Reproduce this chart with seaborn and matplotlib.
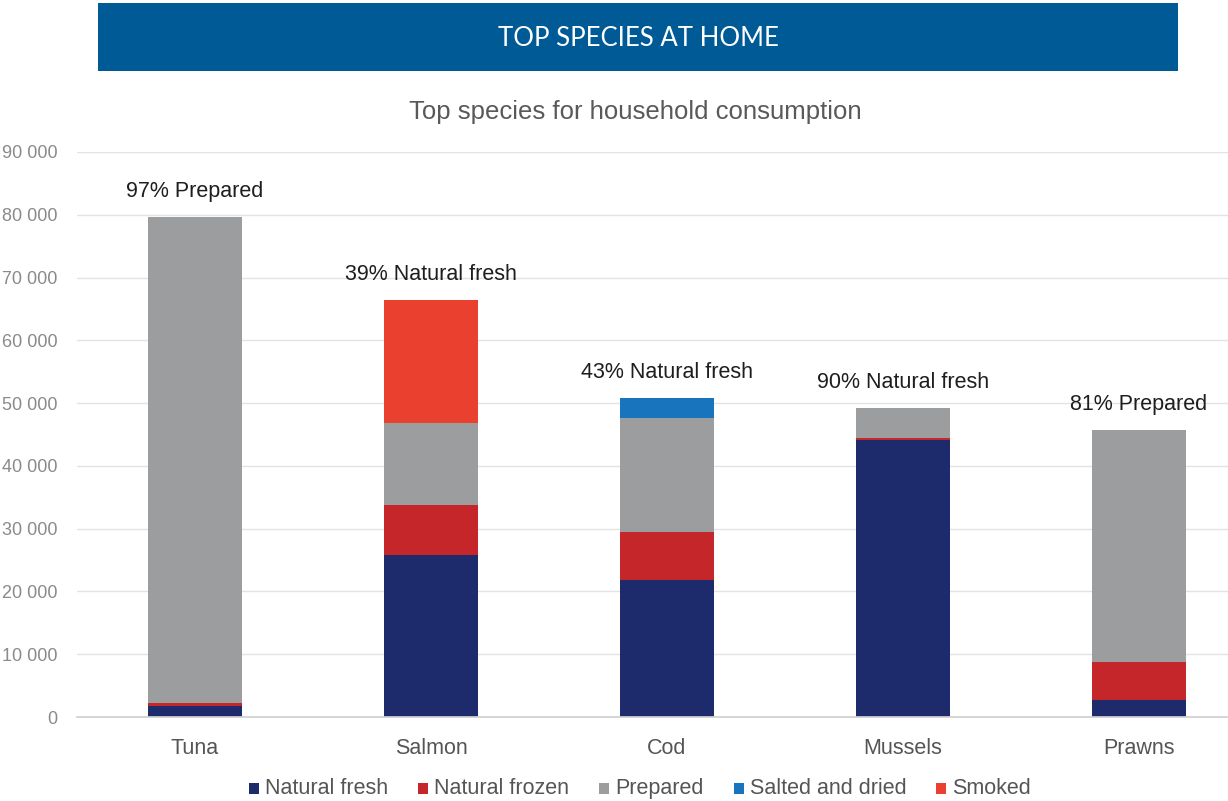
import matplotlib
matplotlib.use("Agg")
import matplotlib.pyplot as plt
from matplotlib.patches import Rectangle
import seaborn as sns
import pandas as pd
import numpy as np

# Household consumption by species and product type
species = ["Tuna", "Salmon", "Cod", "Mussels", "Prawns"]
natural_fresh = [1700, 25800, 21800, 44100, 2700]
natural_frozen = [500, 8000, 7700, 400, 6100]
prepared = [77400, 13000, 18100, 4700, 36900]
salted_dried = [0, 0, 3200, 0, 0]
smoked = [0, 19600, 0, 0, 0]
top_labels = ["97% Prepared", "39% Natural fresh", "43% Natural fresh",
              "90% Natural fresh", "81% Prepared"]
y_ticks = [0, 10000, 20000, 30000, 40000, 50000, 60000, 70000, 80000, 90000]

series = {
    "Natural fresh": natural_fresh,
    "Natural frozen": natural_frozen,
    "Prepared": prepared,
    "Salted and dried": salted_dried,
    "Smoked": smoked,
}
colors = {
    "Natural fresh": "#1d2a6c",
    "Natural frozen": "#c4262a",
    "Prepared": "#9b9d9f",
    "Salted and dried": "#1874bd",
    "Smoked": "#e9402f",
}

sns.set_theme(style="white")
plt.rcParams["font.family"] = ["Liberation Sans", "DejaVu Sans"]

fig = plt.figure(figsize=(12.28, 8.01), dpi=100)
W, H = 1228, 801
ax = fig.add_axes([77 / W, (H - 717) / H, (1228 - 77) / W, (717 - 152) / H])

df = pd.DataFrame(series, index=species)
bottom = np.zeros(len(species))
for name, vals in series.items():
    sns.barplot(x=species, y=vals, bottom=bottom, color=colors[name],
                width=0.40, ax=ax, linewidth=0, saturation=1)
    bottom = bottom + np.array(vals)

totals = df.sum(axis=1).values
for i, (tot, lab) in enumerate(zip(totals, top_labels)):
    ax.annotate(lab, (i, tot), xytext=(0, 11), textcoords="offset points",
                ha="center", va="bottom", fontsize=15.5, color="#1e1e1e")

ax.set_ylim(0, 90000)
ax.set_xlim(-0.5, (1228 - 77) / 236 - 0.5)
ax.set_yticks(y_ticks)
ax.set_yticklabels([f"{v:,}".replace(",", " ") for v in y_ticks],
                   fontsize=13, color="#8a8a8a")
ax.tick_params(axis="y", length=0, pad=14)
ax.tick_params(axis="x", length=0, pad=15, labelsize=15.5, labelcolor="#555555")
ax.yaxis.grid(True, color="#e3e3e3", linewidth=1)
ax.set_axisbelow(True)
for s in ["top", "right", "left"]:
    ax.spines[s].set_visible(False)
ax.spines["bottom"].set_color("#d0d0d0")
ax.set_xlabel("")
ax.set_ylabel("")

# Banner header
fig.patches.append(Rectangle((98 / W, (H - 71) / H), (1178 - 98) / W, 68 / H,
                             transform=fig.transFigure, facecolor="#005a96",
                             edgecolor="none"))
fig.text(638 / W, (H - 38) / H, "TOP SPECIES AT HOME", color="white",
         fontsize=18.5, ha="center", va="center", family=["Lato", "DejaVu Sans"])

fig.text(635 / W, (H - 112) / H, "Top species for household consumption",
         color="#595959", fontsize=18.5, ha="center", va="center")

# Legend row: square swatch + label, laid out on a shared baseline
renderer = fig.canvas.get_renderer()
sq_w, sq_h, pad, gap = 10, 11, 6, 30
base_px = 794
items = []
total_w = 0
for name in series:
    t = fig.text(0, (H - base_px) / H, name, fontsize=15.5, color="#555555",
                 ha="left", va="baseline")
    tw = t.get_window_extent(renderer).width
    items.append((name, t, tw))
    total_w += sq_w + pad + tw
total_w += gap * (len(items) - 1)
x = 640 - total_w / 2
for name, t, tw in items:
    fig.patches.append(Rectangle((x / W, (H - base_px) / H), sq_w / W, sq_h / H,
                                 transform=fig.transFigure,
                                 facecolor=colors[name], edgecolor="none"))
    t.set_x((x + sq_w + pad) / W)
    x += sq_w + pad + tw + gap

fig.savefig("out.png", dpi=100)
